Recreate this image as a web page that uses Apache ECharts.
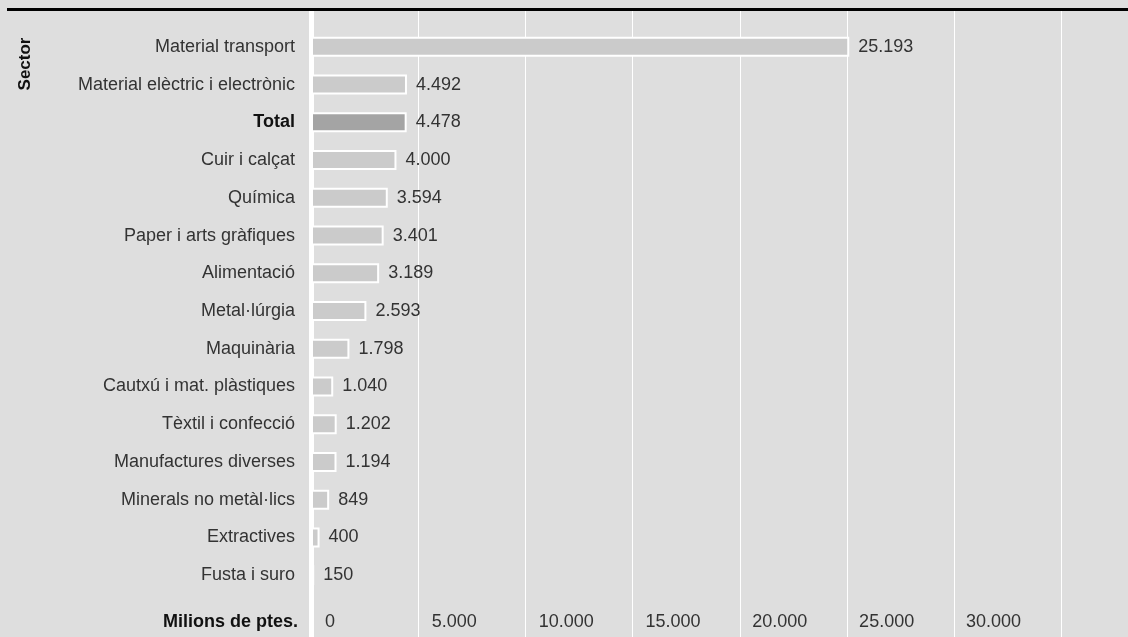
<!DOCTYPE html>
<html>
<head>
<meta charset="utf-8">
<style>
  html, body { margin: 0; padding: 0; background: #dedede; }
  #chart { width: 1128px; height: 637px; }
</style>
<script src="https://cdn.jsdelivr.net/npm/echarts@6/dist/echarts.min.js"></script>
</head>
<body>
<div id="chart"></div>
<script>
// Industrial sectors, top to bottom
const sectors = [
  'Material transport',
  'Material elèctric i electrònic',
  'Total',
  'Cuir i calçat',
  'Química',
  'Paper i arts gràfiques',
  'Alimentació',
  'Metal·lúrgia',
  'Maquinària',
  'Cautxú i mat. plàstiques',
  'Tèxtil i confecció',
  'Manufactures diverses',
  'Minerals no metàl·lics',
  'Extractives',
  'Fusta i suro'
];
// Millions of pesetas per sector
const values = [25193, 4492, 4478, 4000, 3594, 3401, 3189, 2593, 1798, 1040, 1202, 1194, 849, 400, 150];
// Axis range and tick step
const axisMax = 38100;
const tickStep = 5000;
const lastLabel = 30000;

const FONT = '"Liberation Sans", Arial, Helvetica, sans-serif';
const fmt = v => String(v).replace(/\B(?=(\d{3})+(?!\d))/g, '.');

const chart = echarts.init(document.getElementById('chart'), null, { renderer: 'canvas' });

const GRID_LEFT = 311;

chart.setOption({
  backgroundColor: '#dedede',
  animation: false,
  textStyle: { fontFamily: FONT },
  grid: [
    // full-height grid holding the white vertical rules
    { left: GRID_LEFT, right: 0, top: 11, bottom: 0, containLabel: false },
    // grid holding the bars
    { left: GRID_LEFT, right: 0, top: 28, bottom: 43, containLabel: false }
  ],
  xAxis: [
    {
      gridIndex: 0, type: 'value', min: 0, max: axisMax, interval: tickStep, z: 0,
      axisLine: { show: false }, axisTick: { show: false }, axisLabel: { show: false },
      splitLine: { show: true, lineStyle: { color: '#ffffff', width: 1 } }
    },
    {
      gridIndex: 1, type: 'value', min: 0, max: axisMax, interval: tickStep,
      position: 'bottom',
      axisLine: { show: false }, axisTick: { show: false },
      splitLine: { show: false },
      axisLabel: {
        show: true, align: 'left', margin: 19, padding: [0, 0, 0, 14],
        color: '#333333', fontSize: 18, fontFamily: FONT,
        formatter: v => (v > lastLabel ? '' : fmt(v))
      }
    }
  ],
  yAxis: [
    {
      gridIndex: 0, type: 'value', min: 0, max: 1, offset: 1.5, z: 0,
      axisLine: { show: true, lineStyle: { color: '#ffffff', width: 5 } },
      axisTick: { show: false }, axisLabel: { show: false }, splitLine: { show: false }
    },
    {
      gridIndex: 1, type: 'category', data: sectors, inverse: true,
      axisLine: { show: false }, axisTick: { show: false }, splitLine: { show: false },
      axisLabel: {
        margin: 16, color: '#333333', fontSize: 18, fontFamily: FONT,
        formatter: v => (v === 'Total' ? '{b|' + v + '}' : v),
        rich: { b: { fontWeight: 'bold', color: '#111111', fontSize: 18, fontFamily: FONT } }
      }
    }
  ],
  series: [
    {
      type: 'bar',
      xAxisIndex: 1, yAxisIndex: 1,
      z: 5,
      barWidth: 20,
      barMinWidth: 1,
      data: values.map((v, i) => ({
        value: v,
        itemStyle: { color: sectors[i] === 'Total' ? '#a4a4a4' : '#cbcbcb' }
      })),
      itemStyle: { borderColor: '#ffffff', borderWidth: 2 },
      label: {
        show: true, position: 'right', distance: 9,
        color: '#333333', fontSize: 18, fontFamily: FONT,
        formatter: p => fmt(p.value)
      }
    }
  ],
  graphic: [
    {
      type: 'line', z: 10,
      shape: { x1: 7, y1: 9.5, x2: 1128, y2: 9.5 },
      style: { stroke: '#000000', lineWidth: 3 }
    },
    {
      type: 'text', z: 10,
      x: 25.5, y: 64, rotation: Math.PI / 2,
      style: {
        text: 'Sector', fill: '#111111', font: 'bold 17px ' + FONT,
        align: 'center', verticalAlign: 'middle'
      }
    },
    {
      type: 'text', z: 10,
      x: 298, y: 622,
      style: {
        text: 'Milions de ptes.', fill: '#111111', font: 'bold 18px ' + FONT,
        align: 'right', verticalAlign: 'middle'
      }
    }
  ]
});
</script>
</body>
</html>
